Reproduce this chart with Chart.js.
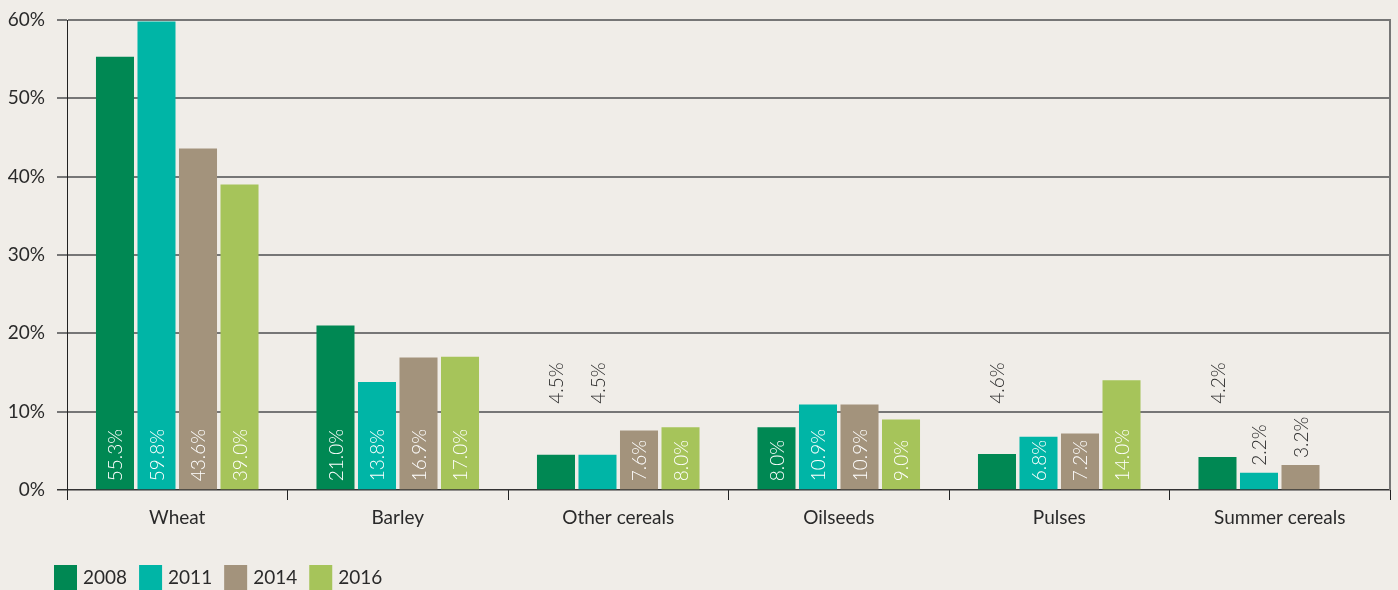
<!DOCTYPE html>
<html>
<head>
<meta charset="utf-8">
<script src="https://cdn.jsdelivr.net/npm/chart.js@4"></script>
<style>
  html, body { margin: 0; padding: 0; background: #f0ede8; }
  #wrap { width: 1398px; height: 590px; position: relative; }
</style>
</head>
<body>
<div id="wrap"><canvas id="cropShare"></canvas></div>
<script>
const categories = ['Wheat', 'Barley', 'Other cereals', 'Oilseeds', 'Pulses', 'Summer cereals'];
const years = ['2008', '2011', '2014', '2016'];
const share2008 = [55.3, 21.0, 4.5, 8.0, 4.6, 4.2];
const share2011 = [59.8, 13.8, 4.5, 10.9, 6.8, 2.2];
const share2014 = [43.6, 16.9, 7.6, 10.9, 7.2, 3.2];
const share2016 = [39.0, 17.0, 8.0, 9.0, 14.0, null];
const yTicks = [0, 10, 20, 30, 40, 50, 60];

const colours = ['#008853', '#00b5a6', '#a3937c', '#a6c45a'];
const FONT = 'Lato';
const textDark = '#2a2a2a';

// rotated value labels: inside the bar when it fits, otherwise above it
// (pushed above a gridline rather than crossing it)
const valueLabels = {
  id: 'valueLabels',
  afterDatasetsDraw(chart) {
    const ctx = chart.ctx;
    const y = chart.scales.y;
    ctx.save();
    ctx.font = '300 19px ' + FONT;
    ctx.textBaseline = 'middle';
    ctx.textAlign = 'left';
    chart.data.datasets.forEach((ds, i) => {
      chart.getDatasetMeta(i).data.forEach((bar, j) => {
        const v = ds.data[j];
        if (v == null) return;
        const text = v.toFixed(1) + '%';
        const w = ctx.measureText(text).width;
        const h = bar.base - bar.y;
        let start, colour;
        if (w + 6 <= h) {
          start = bar.base - 8;
          colour = '#ffffff';
        } else {
          start = bar.y - 7;
          yTicks.forEach(t => {
            if (t === 0) return;
            const gy = y.getPixelForValue(t);
            if (gy > start - w - 2 && gy < start + 2) start = gy - 8;
          });
          colour = textDark;
        }
        ctx.save();
        ctx.translate(bar.x, start);
        ctx.rotate(-Math.PI / 2);
        ctx.fillStyle = colour;
        ctx.fillText(text, 0, 1);
        ctx.restore();
      });
    });
    ctx.restore();
  },
  afterDraw(chart) {
    const ctx = chart.ctx;
    const area = chart.chartArea;
    ctx.save();
    // right frame line
    ctx.strokeStyle = '#767676';
    ctx.lineWidth = 2;
    ctx.beginPath();
    ctx.moveTo(area.right, area.top - 1);
    ctx.lineTo(area.right, area.bottom);
    ctx.stroke();

    // legend along the bottom left
    ctx.font = '19px ' + FONT;
    ctx.textBaseline = 'middle';
    ctx.textAlign = 'left';
    let x = 54;
    const top = 565;
    chart.data.datasets.forEach(ds => {
      ctx.fillStyle = ds.backgroundColor;
      ctx.fillRect(x, top, 23, 25);
      ctx.fillStyle = textDark;
      ctx.fillText(ds.label, x + 29, top + 13);
      x += 23 + 6 + ctx.measureText(ds.label).width + 12;
    });
    ctx.restore();
  }
};

const seriesValues = [share2008, share2011, share2014, share2016];

const data = {
  labels: categories,
  datasets: years.map((yr, i) => ({
    label: yr,
    data: seriesValues[i],
    backgroundColor: colours[i],
    categoryPercentage: 0.753,
    barPercentage: 0.916
  }))
};

const config = {
  type: 'bar',
  data: data,
  options: {
    responsive: true,
    maintainAspectRatio: false,
    animation: false,
    layout: { padding: { left: 0, right: 8, top: 20, bottom: 60 } },
    plugins: {
      legend: { display: false },
      tooltip: { enabled: false }
    },
    scales: {
      x: {
        border: { display: false },
        grid: {
          drawOnChartArea: false,
          drawTicks: true,
          tickLength: 10,
          color: c => c.index >= categories.length ? '#767676' : '#222222',
          lineWidth: c => c.index >= categories.length ? 2 : 1
        },
        ticks: { color: textDark, font: { family: FONT, size: 19 }, padding: 6 },
        afterFit: s => { s.height = 40; }
      },
      y: {
        min: 0,
        max: 60,
        border: { display: true, color: '#222222', width: 1 },
        grid: {
          tickLength: 10,
          color: c => c.tick && c.tick.value === 0 ? '#333333' : '#767676',
          lineWidth: c => c.tick && c.tick.value === 0 ? 1.5 : 2
        },
        ticks: {
          stepSize: 10,
          color: textDark,
          padding: 12,
          font: { family: FONT, size: 19 },
          callback: v => v + '%'
        },
        afterFit: s => { s.width = 67; s.paddingTop = 0; s.paddingBottom = 0; }
      }
    }
  },
  plugins: [valueLabels]
};

const cropChart = new Chart(document.getElementById('cropShare'), config);
</script>
</body>
</html>
